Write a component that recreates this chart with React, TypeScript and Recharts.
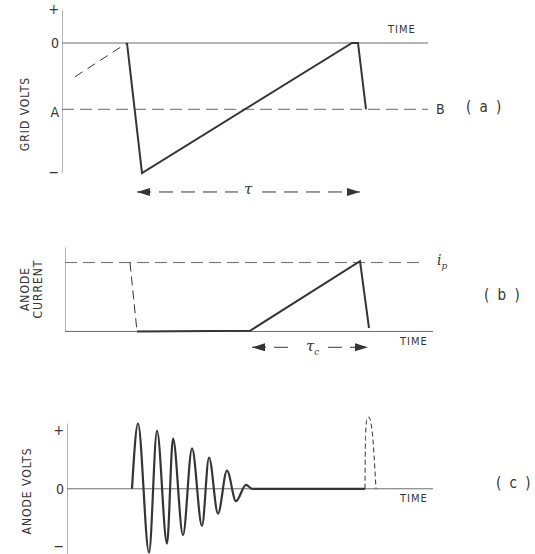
import React from "react";
import { LineChart, Line, XAxis, YAxis } from "recharts";

// time runs in "picture units": x pixel = 64 + t

// (a) grid volts
const gridAxis = [{ t: -2, v: -1 }, { t: -2, v: 0.25 }];
const gridZero = [{ t: -2, v: 0 }, { t: 364, v: 0 }];
const gridLevelAB = [{ t: -2, v: -0.51 }, { t: 364, v: -0.51 }];
const gridLeadIn = [{ t: 11, v: -0.26 }, { t: 63, v: 0 }];
const gridWave = [
  { t: 63, v: 0 },
  { t: 78, v: -1 },
  { t: 288, v: 0 },
  { t: 294, v: 0 },
  { t: 302, v: -0.51 },
];
const gridPeriodLeft = [{ t: 73, v: -1.146 }, { t: 174, v: -1.146 }];
const gridPeriodRight = [{ t: 198, v: -1.146 }, { t: 296, v: -1.146 }];
const gridTicks = [0.26, 0, -0.53, -0.99];
const gridTickLabels = ["+", "0", "A", "\u2212"];

// (b) anode current
const currentAxis = [{ t: 1, v: 0 }, { t: 1, v: 1.22 }];
const currentBase = [{ t: 1, v: 0 }, { t: 369, v: 0 }];
const currentPeak = [{ t: 1, v: 1 }, { t: 359, v: 1 }];
const currentDrop = [{ t: 66, v: 1 }, { t: 73, v: 0 }];
const currentWave = [
  { t: 73, v: 0 },
  { t: 186, v: 0.01 },
  { t: 296, v: 1.02 },
  { t: 305, v: 0.05 },
];
const currentConductionLeft = [{ t: 188, v: -0.23 }, { t: 229, v: -0.23 }];
const currentConductionRight = [{ t: 264, v: -0.23 }, { t: 304, v: -0.23 }];

// (c) anode volts
const voltsAxis = [{ t: 3, v: -1 }, { t: 3, v: 1 }];
const voltsZero = [{ t: 3, v: 0 }, { t: 369, v: 0 }];
const voltsRinging = [
  { t: 68, v: 0 },
  { t: 74, v: 1.0 },
  { t: 85, v: -0.98 },
  { t: 93, v: 0.89 },
  { t: 103, v: -0.84 },
  { t: 109, v: 0.77 },
  { t: 119, v: -0.71 },
  { t: 128, v: 0.62 },
  { t: 138, v: -0.57 },
  { t: 145, v: 0.48 },
  { t: 154, v: -0.38 },
  { t: 163, v: 0.28 },
  { t: 172, v: -0.19 },
  { t: 182, v: 0.06 },
  { t: 188, v: 0 },
  { t: 301, v: 0 },
];
const voltsPulse = [
  { t: 301, v: 0 },
  { t: 301.5, v: 0.8 },
  { t: 303, v: 1.08 },
  { t: 305, v: 1.1 },
  { t: 307, v: 1.0 },
  { t: 308, v: 0.9 },
  { t: 312, v: 0 },
];
const voltsTicks = [0.9, 0, -0.88];
const voltsTickLabels = ["+", "0", "\u2212"];

const INK = "#353535";
const AXIS = "#6a6a6a";
const FONT = "'DejaVu Sans Condensed', 'Liberation Sans Narrow', 'DejaVu Sans', sans-serif";

const arrowHead = (dir: "left" | "right", at: number) => (props: any) => {
  const { cx, cy, index } = props;
  if (index !== at) return <g key={`no-${index}`} />;
  const pts =
    dir === "left"
      ? `${cx},${cy} ${cx + 13},${cy - 4} ${cx + 13},${cy + 4}`
      : `${cx},${cy} ${cx - 13},${cy - 4} ${cx - 13},${cy + 4}`;
  return <polygon key={`arrow-${index}`} points={pts} fill={INK} />;
};

const seg = (data: any[], key: string, stroke: string, width: number, dash?: string, type: any = "linear", dot: any = false) => (
  <Line
    key={key}
    data={data}
    dataKey="v"
    type={type}
    stroke={stroke}
    strokeWidth={width}
    strokeDasharray={dash}
    dot={dot}
    activeDot={false}
    isAnimationActive={false}
  />
);

const tickStyle = { fill: INK, fontSize: 14, fontFamily: FONT };

const text = (s: React.CSSProperties): React.CSSProperties => ({
  position: "absolute",
  color: INK,
  fontFamily: FONT,
  whiteSpace: "nowrap",
  lineHeight: 1,
  ...s,
});

const rotated = (cx: number, cy: number): React.CSSProperties =>
  text({
    left: cx,
    top: cy,
    fontSize: 12,
    letterSpacing: 1,
    transform: "translate(-50%, -50%) rotate(-90deg)",
    textAlign: "center",
    lineHeight: 1.05,
  });

const greek: React.CSSProperties = { fontSize: 15, fontStyle: "italic", fontFamily: "'DejaVu Serif', serif" };

export default function App() {
  return (
    <div style={{ position: "absolute", left: 0, top: 0, width: 535, height: 554, background: "#fff", overflow: "hidden" }}>
      {/* (a) */}
      <div style={{ position: "absolute", left: 0, top: 0 }}>
        <LineChart width={535} height={200} margin={{ top: 4, right: 101, bottom: 1, left: 42 }}>
          <XAxis type="number" dataKey="t" domain={[-2, 370]} allowDataOverflow hide height={0} />
          <YAxis
            type="number"
            domain={[-1.2, 0.3]}
            allowDataOverflow
            ticks={gridTicks}
            interval={0}
            width={20}
            axisLine={false}
            tickLine={false}
            tickSize={0}
            tickMargin={3}
            tick={tickStyle}
            tickFormatter={(v: number) => gridTickLabels[gridTicks.indexOf(v)] ?? ""}
          />
          {seg(gridAxis, "ga", AXIS, 1)}
          {seg(gridZero, "gz", AXIS, 1)}
          {seg(gridLevelAB, "gab", AXIS, 1, "12 6")}
          {seg(gridLeadIn, "gl", INK, 1, "9 6")}
          {seg(gridWave, "gw", INK, 2)}
          {seg(gridPeriodLeft, "gpl", INK, 1, "14 8", "linear", arrowHead("left", 0))}
          {seg(gridPeriodRight, "gpr", INK, 1, "14 8", "linear", arrowHead("right", 1))}
        </LineChart>
      </div>

      {/* (b) */}
      <div style={{ position: "absolute", left: 0, top: 230 }}>
        <LineChart width={535} height={135} margin={{ top: 5, right: 101, bottom: 6, left: 65 }}>
          <XAxis type="number" dataKey="t" domain={[1, 370]} allowDataOverflow hide height={0} />
          <YAxis type="number" domain={[-0.4, 1.4]} allowDataOverflow hide width={0} />
          {seg(currentAxis, "ca", AXIS, 1)}
          {seg(currentBase, "cb", AXIS, 1)}
          {seg(currentPeak, "cp", AXIS, 1, "12 6")}
          {seg(currentDrop, "cd", INK, 1, "9 5")}
          {seg(currentWave, "cw", INK, 2)}
          {seg(currentConductionLeft, "ccl", INK, 1, "14 8", "linear", arrowHead("left", 0))}
          {seg(currentConductionRight, "ccr", INK, 1, "14 8", "linear", arrowHead("right", 1))}
        </LineChart>
      </div>

      {/* (c) */}
      <div style={{ position: "absolute", left: 0, top: 370 }}>
        <LineChart width={535} height={184} margin={{ top: 34, right: 101, bottom: 0, left: 47 }}>
          <XAxis type="number" dataKey="t" domain={[3, 370]} allowDataOverflow hide height={0} />
          <YAxis
            type="number"
            domain={[-1, 1.3]}
            allowDataOverflow
            ticks={voltsTicks}
            interval={0}
            width={20}
            axisLine={false}
            tickLine={false}
            tickSize={0}
            tickMargin={3}
            tick={tickStyle}
            tickFormatter={(v: number) => voltsTickLabels[voltsTicks.indexOf(v)] ?? ""}
          />
          {seg(voltsAxis, "va", AXIS, 1)}
          {seg(voltsZero, "vz", AXIS, 1)}
          {seg(voltsRinging, "vr", INK, 2.2, undefined, "monotone")}
          {seg(voltsPulse, "vp", INK, 1, "5 3", "monotone")}
        </LineChart>
      </div>

      {/* labels */}
      <div style={rotated(25, 114)}>GRID VOLTS</div>
      <div style={text({ left: 388, top: 24, fontSize: 11, letterSpacing: 1 })}>TIME</div>
      <div style={text({ left: 436, top: 102, fontSize: 14 })}>B</div>
      <div style={text({ left: 466, top: 100, fontSize: 15, letterSpacing: 2 })}>( a )</div>
      <div style={text({ left: 244, top: 182, ...greek })}>τ</div>

      <div style={rotated(32, 289)}>
        ANODE
        <br />
        CURRENT
      </div>
      <div style={text({ left: 437, top: 253, ...greek, fontSize: 14 })}>
        i<sub style={{ fontSize: 9 }}>p</sub>
      </div>
      <div style={text({ left: 484, top: 288, fontSize: 15, letterSpacing: 2 })}>( b )</div>
      <div style={text({ left: 400, top: 336, fontSize: 11, letterSpacing: 1 })}>TIME</div>
      <div style={text({ left: 306, top: 339, ...greek })}>
        τ<sub style={{ fontSize: 9 }}>c</sub>
      </div>

      <div style={rotated(27, 491)}>ANODE VOLTS</div>
      <div style={text({ left: 496, top: 476, fontSize: 15, letterSpacing: 2 })}>( c )</div>
      <div style={text({ left: 400, top: 493, fontSize: 11, letterSpacing: 1 })}>TIME</div>
    </div>
  );
}
